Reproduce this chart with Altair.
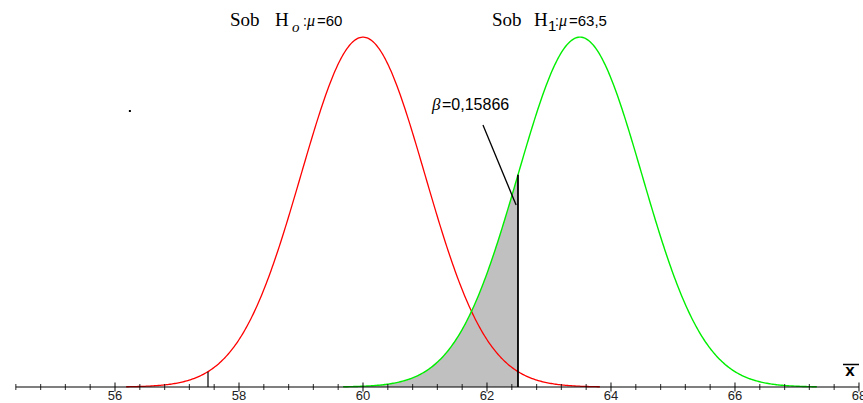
import altair as alt
import numpy as np
import pandas as pd

# Hypothesis test setup: sampling distribution of the mean under H0 and H1
mu_h0 = 60.0
mu_h1 = 63.5
sigma = 1.0
crit_low = 57.5
crit_high = 62.5
beta_label = "β=0,15866"
span = 3.82  # curves are drawn over mu ± span*sigma

tick_label_values = [56, 58, 60, 62, 64, 66, 68]
axis_start, axis_end, minor_step = 54.4, 68.0, 0.4

W, H = 863, 403
x_scale = alt.Scale(domain=[54.145, 68.065], range=[0, W], nice=False, zero=False)
y_scale = alt.Scale(domain=[-0.01824, 0.4413], range=[H, 0], nice=False, zero=False)


def normal_pdf(x, mu, s):
    return np.exp(-0.5 * ((x - mu) / s) ** 2) / (s * np.sqrt(2 * np.pi))


xs0 = np.linspace(mu_h0 - span * sigma, mu_h0 + span * sigma, 400)
xs1 = np.linspace(mu_h1 - span * sigma, mu_h1 + span * sigma, 400)
h0 = pd.DataFrame({"x": xs0, "d": normal_pdf(xs0, mu_h0, sigma)})
h1 = pd.DataFrame({"x": xs1, "d": normal_pdf(xs1, mu_h1, sigma)})
beta_region = h1[h1["x"] <= crit_high]
beta_region = pd.concat(
    [beta_region, pd.DataFrame({"x": [crit_high], "d": [normal_pdf(crit_high, mu_h1, sigma)]})]
)

X = lambda f="x": alt.X(f"{f}:Q", scale=x_scale, axis=None)
Y = lambda f="d": alt.Y(f"{f}:Q", scale=y_scale, axis=None)

shade = alt.Chart(beta_region).mark_area(color="#c0c0c0", opacity=1).encode(
    x=X(), y=Y(), y2=alt.Y2(datum=0)
)
curve0 = alt.Chart(h0).mark_line(color="#ff0000", strokeWidth=1.3).encode(x=X(), y=Y())
curve1 = alt.Chart(h1).mark_line(color="#00ee00", strokeWidth=1.4).encode(x=X(), y=Y())

# vertical lines at the critical values, up to the corresponding curve
crit = pd.DataFrame({
    "x": [crit_low, crit_high],
    "top": [normal_pdf(crit_low, mu_h0, sigma), normal_pdf(crit_high, mu_h1, sigma)],
    "w": [1.2, 1.8],
})
crit_lines = alt.Chart(crit).mark_rule(color="black").encode(
    x=X(), y=alt.Y("top:Q", scale=y_scale, axis=None), y2=alt.Y2(datum=0),
    strokeWidth=alt.StrokeWidth("w:Q", scale=None),
)

# horizontal axis drawn by hand: line, crossing ticks, labels
axis_line = alt.Chart(pd.DataFrame({"x": [axis_start], "x2": [axis_end]})).mark_rule(
    color="black", strokeWidth=1.2
).encode(x=X(), x2="x2:Q", y=alt.Y(datum=0, scale=y_scale, axis=None))

tick_vals = np.round(np.arange(axis_start, axis_end + 1e-9, minor_step), 2)
ticks = pd.DataFrame({"x": tick_vals, "d": 0.0})
ticks["major"] = np.isclose(ticks["x"] % 2, 0) | np.isclose(ticks["x"] % 2, 2)
minor_ticks = alt.Chart(ticks[~ticks["major"]]).mark_tick(
    orient="vertical", color="black", size=6, thickness=1.2
).encode(x=X(), y=Y())
major_ticks = alt.Chart(ticks[ticks["major"]]).mark_tick(
    orient="vertical", color="black", size=9, thickness=1.4
).encode(x=X(), y=Y())

labels = alt.Chart(pd.DataFrame({"x": tick_label_values})).mark_text(
    font="Liberation Sans", fontSize=13, color="#222222", baseline="alphabetic", align="center"
).encode(x=X(), y=alt.value(400), text="x:Q")


def txt(s, x, y, size, font="Liberation Sans", style="normal", weight="normal", align="left"):
    return alt.Chart(pd.DataFrame({"t": [s]})).mark_text(
        font=font, fontSize=size, fontStyle=style, fontWeight=weight,
        align=align, baseline="alphabetic", color="black"
    ).encode(x=alt.value(x), y=alt.value(y), text="t:N")


titles = [
    txt("Sob", 230, 25.5, 19, font="Liberation Serif"),
    txt("H", 275, 25.5, 19, font="Liberation Serif"),
    txt("o", 292, 32, 15, font="Liberation Serif", style="italic"),
    txt(":", 303, 25.5, 14),
    txt("μ", 307, 25.5, 16, font="Liberation Serif", style="italic"),
    txt("=60", 317, 25.5, 15),
    txt("Sob", 492, 25.5, 19, font="Liberation Serif"),
    txt("H", 534, 25.5, 19, font="Liberation Serif"),
    txt("1", 548, 30.5, 15),
    txt(":", 555, 25.5, 14),
    txt("μ", 559, 25.5, 16, font="Liberation Serif", style="italic"),
    txt("=63,5", 569, 25.5, 15),
    txt("β", 432, 110, 17, font="Liberation Serif", style="italic"),
    txt("=0,15866", 442, 110, 16),
    txt("x", 850, 376, 17, weight="bold", align="center"),
]

xbar = alt.Chart(pd.DataFrame({"a": [0]})).mark_rule(color="black", strokeWidth=1.5).encode(
    x=alt.value(843), x2=alt.value(859), y=alt.value(364.5)
)

# pointer from the beta label to the shaded region
pointer = alt.Chart(pd.DataFrame({"x": [61.935], "y": [0.2987], "x2": [62.47], "y2": [0.2075]})).mark_rule(
    color="black", strokeWidth=1.3
).encode(x=X(), y=Y("y"), x2="x2:Q", y2="y2:Q")

stray_dot = alt.Chart(pd.DataFrame({"x": [56.24], "d": [0.3147]})).mark_square(
    color="black", size=4, opacity=1
).encode(x=X(), y=Y())

chart = alt.layer(
    shade, curve0, curve1, crit_lines, axis_line, minor_ticks, major_ticks, labels,
    pointer, stray_dot, xbar, *titles
).properties(
    width=W, height=H, background="white", padding=0, autosize=alt.AutoSizeParams(type="none")
).configure_view(stroke=None)

chart.save("out.html", embed_options={"renderer": "svg", "actions": False})
